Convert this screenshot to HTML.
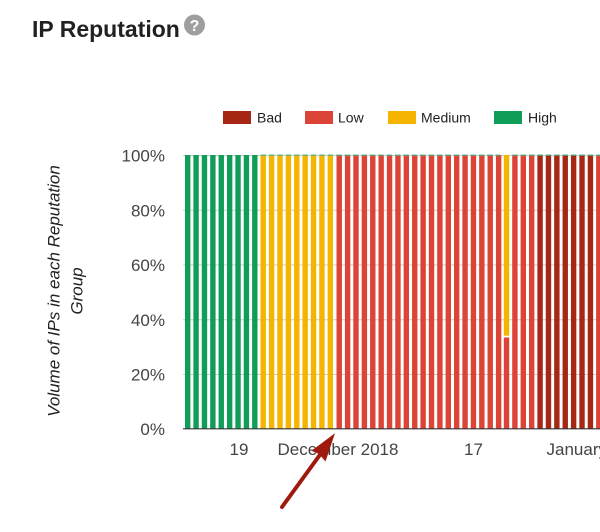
<!DOCTYPE html>
<html>
<head>
<meta charset="utf-8">
<style>
html,body{margin:0;padding:0;background:#fff;}
svg{display:block;}
text{font-family:"Liberation Sans",Arial,sans-serif;}
</style>
</head>
<body>
<svg width="600" height="532" viewBox="0 0 600 532" xmlns="http://www.w3.org/2000/svg">
<defs>
<pattern id="cap" x="0.51" y="0" width="8.39" height="2" patternUnits="userSpaceOnUse">
<rect x="0" y="0" width="5.4" height="2" fill="#4fb58a"/>
</pattern>
</defs>
<rect width="600" height="532" fill="#fff"/>
<text x="32" y="37" font-size="23" font-weight="bold" fill="#212121">IP Reputation</text>
<circle cx="194.5" cy="25" r="10.5" fill="#9e9e9e"/>
<text x="194.5" y="31" font-size="16" font-weight="bold" fill="#fff" text-anchor="middle">?</text>

<rect x="223" y="111" width="28" height="13" fill="#a52714"/>
<text x="257" y="122.5" font-size="14" fill="#222">Bad</text>
<rect x="305" y="111" width="28" height="13" fill="#db4437"/>
<text x="338" y="122.5" font-size="14" fill="#222">Low</text>
<rect x="388" y="111" width="28" height="13" fill="#f4b400"/>
<text x="421" y="122.5" font-size="14" fill="#222">Medium</text>
<rect x="494" y="111" width="28" height="13" fill="#0f9d58"/>
<text x="528" y="122.5" font-size="14" fill="#222">High</text>

<g stroke="#cccccc" stroke-width="1">
<line x1="183" y1="155.5" x2="600" y2="155.5"/>
<line x1="183" y1="210.3" x2="600" y2="210.3"/>
<line x1="183" y1="265" x2="600" y2="265"/>
<line x1="183" y1="319.8" x2="600" y2="319.8"/>
<line x1="183" y1="374.5" x2="600" y2="374.5"/>
</g>

<g font-size="17" fill="#444" text-anchor="end">
<text x="165" y="161.5">100%</text>
<text x="165" y="216.3">80%</text>
<text x="165" y="271">60%</text>
<text x="165" y="325.8">40%</text>
<text x="165" y="380.5">20%</text>
<text x="165" y="435">0%</text>
</g>

<g font-size="17" font-style="italic" fill="#222" text-anchor="middle">
<text transform="translate(59.5,291) rotate(-90)">Volume of IPs in each Reputation</text>
<text transform="translate(82.5,291) rotate(-90)">Group</text>
</g>

<g fill="#0f9d58">
<rect x="185.00" y="155" width="5.4" height="273.5"/>
<rect x="193.39" y="155" width="5.4" height="273.5"/>
<rect x="201.78" y="155" width="5.4" height="273.5"/>
<rect x="210.17" y="155" width="5.4" height="273.5"/>
<rect x="218.56" y="155" width="5.4" height="273.5"/>
<rect x="226.95" y="155" width="5.4" height="273.5"/>
<rect x="235.34" y="155" width="5.4" height="273.5"/>
<rect x="243.73" y="155" width="5.4" height="273.5"/>
<rect x="252.12" y="155" width="5.4" height="273.5"/>
</g>
<g fill="#f4b400">
<rect x="260.51" y="155" width="5.4" height="273.5"/>
<rect x="268.90" y="155" width="5.4" height="273.5"/>
<rect x="277.29" y="155" width="5.4" height="273.5"/>
<rect x="285.68" y="155" width="5.4" height="273.5"/>
<rect x="294.07" y="155" width="5.4" height="273.5"/>
<rect x="302.46" y="155" width="5.4" height="273.5"/>
<rect x="310.85" y="155" width="5.4" height="273.5"/>
<rect x="319.24" y="155" width="5.4" height="273.5"/>
<rect x="327.63" y="155" width="5.4" height="273.5"/>
<rect x="503.82" y="155" width="5.4" height="180.7"/>
</g>
<g fill="#db4437">
<rect x="336.52" y="155" width="5.4" height="273.5"/>
<rect x="344.91" y="155" width="5.4" height="273.5"/>
<rect x="353.30" y="155" width="5.4" height="273.5"/>
<rect x="361.69" y="155" width="5.4" height="273.5"/>
<rect x="370.08" y="155" width="5.4" height="273.5"/>
<rect x="378.47" y="155" width="5.4" height="273.5"/>
<rect x="386.86" y="155" width="5.4" height="273.5"/>
<rect x="395.25" y="155" width="5.4" height="273.5"/>
<rect x="403.64" y="155" width="5.4" height="273.5"/>
<rect x="412.03" y="155" width="5.4" height="273.5"/>
<rect x="420.42" y="155" width="5.4" height="273.5"/>
<rect x="428.81" y="155" width="5.4" height="273.5"/>
<rect x="437.20" y="155" width="5.4" height="273.5"/>
<rect x="445.59" y="155" width="5.4" height="273.5"/>
<rect x="453.98" y="155" width="5.4" height="273.5"/>
<rect x="462.37" y="155" width="5.4" height="273.5"/>
<rect x="470.76" y="155" width="5.4" height="273.5"/>
<rect x="479.15" y="155" width="5.4" height="273.5"/>
<rect x="487.54" y="155" width="5.4" height="273.5"/>
<rect x="495.93" y="155" width="5.4" height="273.5"/>
<rect x="503.82" y="337.5" width="5.4" height="91"/>
<rect x="512.21" y="155" width="5.4" height="273.5"/>
<rect x="520.60" y="155" width="5.4" height="273.5"/>
<rect x="528.99" y="155" width="5.4" height="273.5"/>
<rect x="596.11" y="155" width="5.4" height="273.5"/>
</g>
<g fill="#a52714">
<rect x="537.38" y="155" width="5.4" height="273.5"/>
<rect x="545.77" y="155" width="5.4" height="273.5"/>
<rect x="554.16" y="155" width="5.4" height="273.5"/>
<rect x="562.55" y="155" width="5.4" height="273.5"/>
<rect x="570.94" y="155" width="5.4" height="273.5"/>
<rect x="579.33" y="155" width="5.4" height="273.5"/>
<rect x="587.72" y="155" width="5.4" height="273.5"/>
</g>
<rect x="260" y="154.5" width="240" height="1.2" fill="url(#cap)"/>
<rect x="511" y="154.5" width="89" height="1.2" fill="url(#cap)"/>

<line x1="183" y1="428.8" x2="600" y2="428.8" stroke="#333" stroke-width="1.2"/>

<g font-size="17" fill="#444">
<text x="239" y="455" text-anchor="middle">19</text>
<text x="277.5" y="455">December 2018</text>
<text x="473.5" y="455" text-anchor="middle">17</text>
<text x="546.5" y="455">January</text>
</g>

<line x1="282" y1="507" x2="322" y2="452" stroke="#9e1a0c" stroke-width="4" stroke-linecap="round"/>
<polygon points="335,433.3 325.5,461.5 319,454 311.5,450.8" fill="#9e1a0c"/>
</svg>
</body>
</html>
